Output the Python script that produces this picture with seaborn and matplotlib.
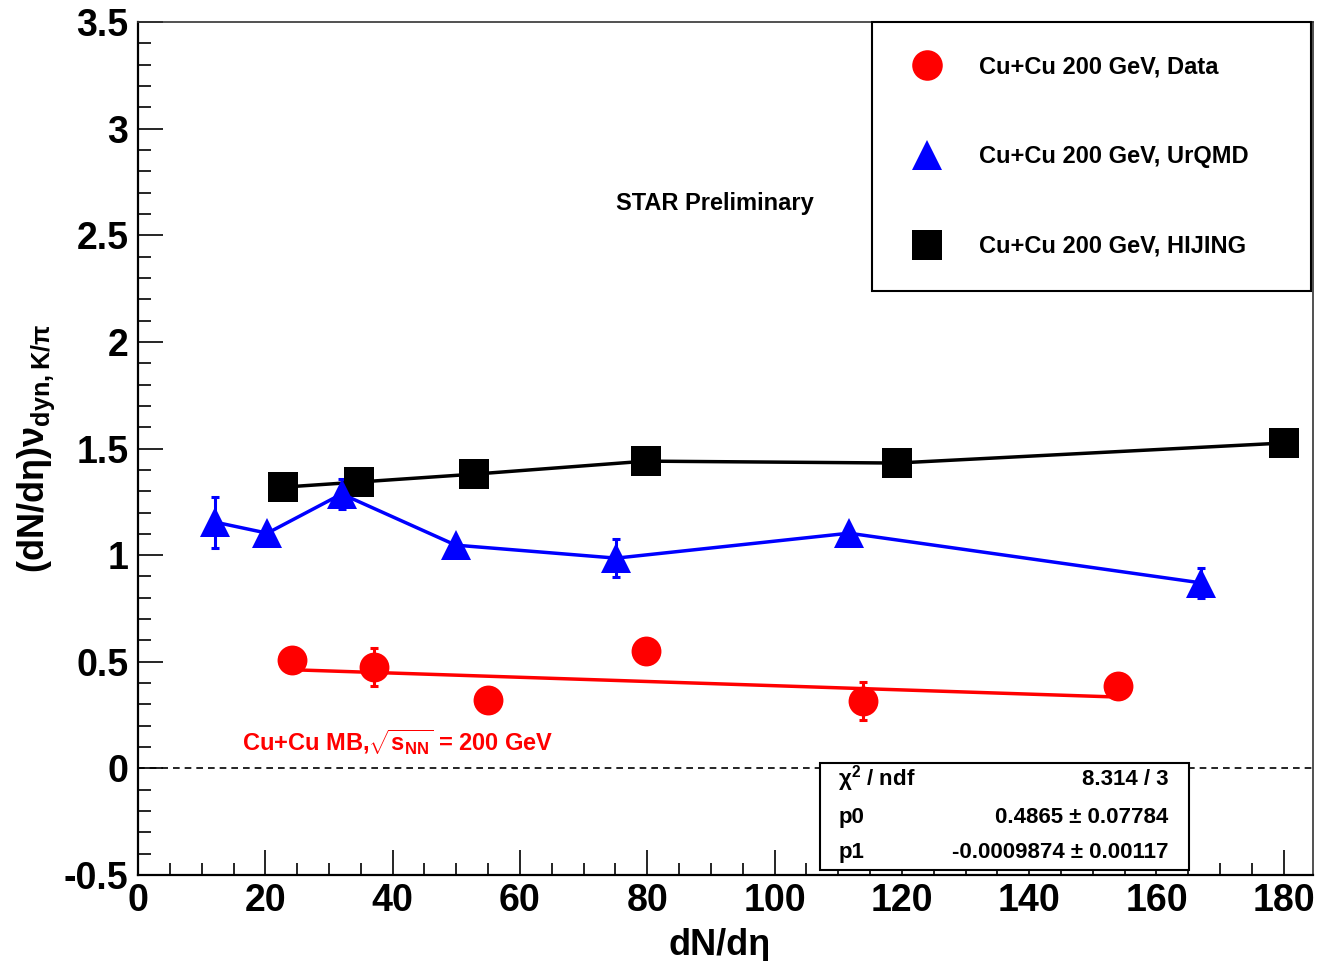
import matplotlib
matplotlib.use("Agg")
import matplotlib.pyplot as plt
import numpy as np
import pandas as pd
import seaborn as sns
from matplotlib.lines import Line2D
from matplotlib.patches import Rectangle
from matplotlib.ticker import MultipleLocator

# Cu+Cu 200 GeV measured points
data_x = [24.2, 37.1, 55.0, 79.8, 113.9, 153.9]
data_y = [0.508, 0.475, 0.321, 0.550, 0.316, 0.386]
data_err = [0.04, 0.09, 0.02, 0.05, 0.09, 0.02]

# UrQMD model
urqmd_x = [12.1, 20.3, 32.0, 49.9, 75.1, 111.7, 167.0]
urqmd_y = [1.155, 1.103, 1.287, 1.047, 0.986, 1.103, 0.870]
urqmd_err = [0.12, 0.02, 0.07, 0.02, 0.09, 0.02, 0.07]

# HIJING model
hijing_x = [22.8, 34.7, 52.8, 79.8, 119.2, 180.0]
hijing_y = [1.319, 1.343, 1.380, 1.441, 1.432, 1.526]

# linear fit (pol1) to the data
fit_chi2 = "8.314 / 3"
fit_p0, fit_p0_err = 0.4865, 0.07784
fit_p1, fit_p1_err = -0.0009874, 0.00117

legend_labels = ["Cu+Cu 200 GeV, Data", "Cu+Cu 200 GeV, UrQMD", "Cu+Cu 200 GeV, HIJING"]

sns.set_theme(style="ticks")
plt.rcParams["font.family"] = ["Liberation Sans", "DejaVu Sans"]
plt.rcParams["font.weight"] = "bold"
plt.rcParams["text.color"] = "black"
plt.rcParams["axes.labelcolor"] = "black"
plt.rcParams["xtick.color"] = "black"
plt.rcParams["ytick.color"] = "black"
plt.rcParams["mathtext.fontset"] = "custom"
plt.rcParams["mathtext.rm"] = "Liberation Sans"
plt.rcParams["mathtext.bf"] = "Liberation Sans:bold"
plt.rcParams["mathtext.it"] = "Liberation Sans:italic"
plt.rcParams["mathtext.default"] = "rm"

df_data = pd.DataFrame({"x": data_x, "y": data_y, "err": data_err})
df_urqmd = pd.DataFrame({"x": urqmd_x, "y": urqmd_y, "err": urqmd_err})
df_hijing = pd.DataFrame({"x": hijing_x, "y": hijing_y})
fit_x = np.array([min(data_x), max(data_x)])
df_fit = pd.DataFrame({"x": fit_x, "y": fit_p0 + fit_p1 * fit_x})

fig = plt.figure(figsize=(13.21, 9.61), dpi=100)
ax = fig.add_axes([0.1045, 0.0895, 0.8895, 0.8875])
ax.set_facecolor("white")

ax.axhline(0, color="black", linestyle=(0, (4, 3)), linewidth=1.2, zorder=1)

# HIJING
sns.lineplot(data=df_hijing, x="x", y="y", ax=ax, color="black", linewidth=2.5,
             marker="s", markersize=21, markeredgewidth=0, errorbar=None, zorder=3)

# UrQMD
ax.errorbar(df_urqmd["x"], df_urqmd["y"], yerr=df_urqmd["err"], fmt="none",
            ecolor="blue", elinewidth=2.2, capsize=3, capthick=2.2, zorder=2)
sns.lineplot(data=df_urqmd, x="x", y="y", ax=ax, color="blue", linewidth=2.5,
             marker="^", markersize=22, markeredgewidth=0, errorbar=None, zorder=3)

# data with fit
ax.errorbar(df_data["x"], df_data["y"], yerr=df_data["err"], fmt="none",
            ecolor="red", elinewidth=2.2, capsize=3, capthick=2.2, zorder=2)
sns.lineplot(data=df_fit, x="x", y="y", ax=ax, color="red", linewidth=2.5,
             errorbar=None, zorder=2.5)
sns.scatterplot(data=df_data, x="x", y="y", ax=ax, color="red", marker="o",
                s=21.5 ** 2, linewidth=0, zorder=3)

ax.set_xlim(0, 184.6)
ax.set_ylim(-0.5, 3.5)
ax.xaxis.set_major_locator(MultipleLocator(20))
ax.xaxis.set_minor_locator(MultipleLocator(5))
ax.yaxis.set_major_locator(MultipleLocator(0.5))
ax.yaxis.set_minor_locator(MultipleLocator(0.1))
ax.tick_params(which="both", direction="in", top=False, right=False, color="black",
               labelcolor="black", labelsize=27)
ax.tick_params(which="major", length=18, width=1.2)
ax.tick_params(which="minor", length=9, width=1.2)
ax.tick_params(axis="x", pad=6)
ax.tick_params(axis="y", pad=7)
ax.set_yticks([-0.5, 0, 0.5, 1, 1.5, 2, 2.5, 3, 3.5])
ax.set_yticklabels(["-0.5", "0", "0.5", "1", "1.5", "2", "2.5", "3", "3.5"])

for side in ["left", "bottom"]:
    ax.spines[side].set_linewidth(1.6)
    ax.spines[side].set_color("black")
for side in ["top", "right"]:
    ax.spines[side].set_linewidth(1.2)
    ax.spines[side].set_color("#333333")

ax.set_xlabel("dN/dη", fontsize=26, fontweight="bold", color="black")
ax.xaxis.set_label_coords(0.495, -0.062)
ax.set_ylabel(r"(dN/dη)$\nu_{\mathbf{dyn,K/π}}$", fontsize=26, fontweight="bold",
              color="black")
ax.yaxis.set_label_coords(-0.069, 0.5)

ax.text(90.6, 2.65, "STAR Preliminary", fontsize=17, fontweight="bold",
        ha="center", va="center", color="black")
ax.text(16.3, 0.12, r"Cu+Cu MB,$\sqrt{\mathbf{s}_{\mathbf{NN}}}$ = 200 GeV", fontsize=17,
        fontweight="bold", ha="left", va="center", color="red")

handles = [
    Line2D([], [], linestyle="none", marker="o", markersize=22, color="red", markeredgewidth=0),
    Line2D([], [], linestyle="none", marker="^", markersize=22, color="blue", markeredgewidth=0),
    Line2D([], [], linestyle="none", marker="s", markersize=21, color="black", markeredgewidth=0),
]
leg = ax.legend(handles, legend_labels, loc="upper left",
                bbox_to_anchor=(0.6247, 1.0, 0.3736, 0.0), mode="expand",
                fontsize=17, frameon=True, fancybox=False, framealpha=1,
                edgecolor="black", borderpad=1.42, labelspacing=2.82,
                handlelength=1.8, handletextpad=1.3, borderaxespad=0)
leg.get_frame().set_linewidth(1.5)
for t in leg.get_texts():
    t.set_fontweight("bold")
    t.set_color("black")

# fit statistics box
ax.add_patch(Rectangle((0.580, 0.006), 0.314, 0.125, transform=ax.transAxes,
                       facecolor="white", edgecolor="black", linewidth=1.5, zorder=5))
rows = [
    (r"$\chi^{\mathbf{2}}$ / ndf", fit_chi2),
    ("p0", f"{fit_p0} ± {fit_p0_err}"),
    ("p1", f"{fit_p1} ± {fit_p1_err}"),
]
row_y = [0.1125, 0.067, 0.0258]
for (name, val), yy in zip(rows, row_y):
    ax.text(0.596, yy, name, transform=ax.transAxes, fontsize=16, fontweight="bold",
            ha="left", va="center", zorder=6)
    ax.text(0.8766, yy, val, transform=ax.transAxes, fontsize=16, fontweight="bold",
            ha="right", va="center", zorder=6)

fig.savefig("out.png", dpi=100, facecolor="white")
